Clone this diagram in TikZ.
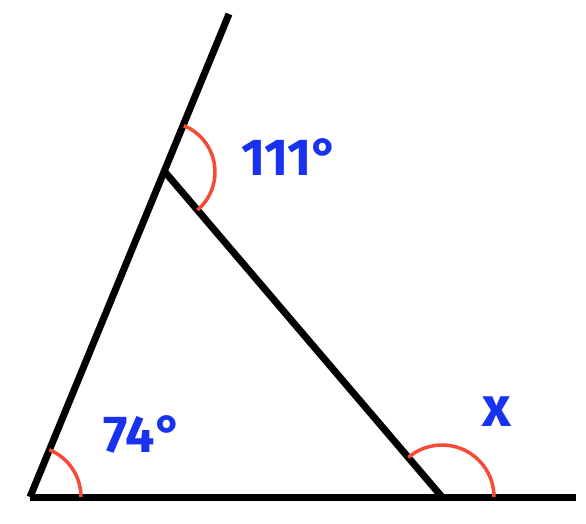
\documentclass[tikz,border=0pt]{standalone}
\usepackage{fontspec}
\setmainfont{Fira Sans}
\definecolor{lblblue}{RGB}{25,50,240}
\definecolor{arcred}{RGB}{245,75,55}
\begin{document}
\begin{tikzpicture}[x=1pt,y=-1pt,
  seg/.style={line width=7pt,black},
  anglearc/.style={line width=3.5pt,arcred},
  lbl/.style={text=lblblue,font=\fontsize{52}{60}\selectfont\bfseries,inner sep=0pt}]
\useasboundingbox (0,0) rectangle (586,523);
\coordinate (A) at (30,497);
\coordinate (B) at (165,172);
\coordinate (C) at (442,497);
\coordinate (T) at (229,14);
\coordinate (E) at (576,497);
\draw[seg] (A) -- (T);
\draw[seg] (A) -- (E);
\draw[seg] (B) -- (C);
% angle arcs (y axis points down, so angles are measured clockwise on screen)
\draw[anglearc] (A) ++(0:51) arc[start angle=0, end angle=-67.8, radius=51];
\draw[anglearc] (B) ++(49.6:50) arc[start angle=49.6, end angle=-67.8, radius=50];
\draw[anglearc] (C) ++(0:52) arc[start angle=0, end angle=-130.4, radius=52];
\node[lbl] (l74) at (143,434) {74°};
\node[lbl] (l111) at (290,157) {111°};
\node[lbl,font=\fontsize{56}{60}\selectfont\bfseries] (lx) at (497,412) {x};
\end{tikzpicture}
\end{document}
